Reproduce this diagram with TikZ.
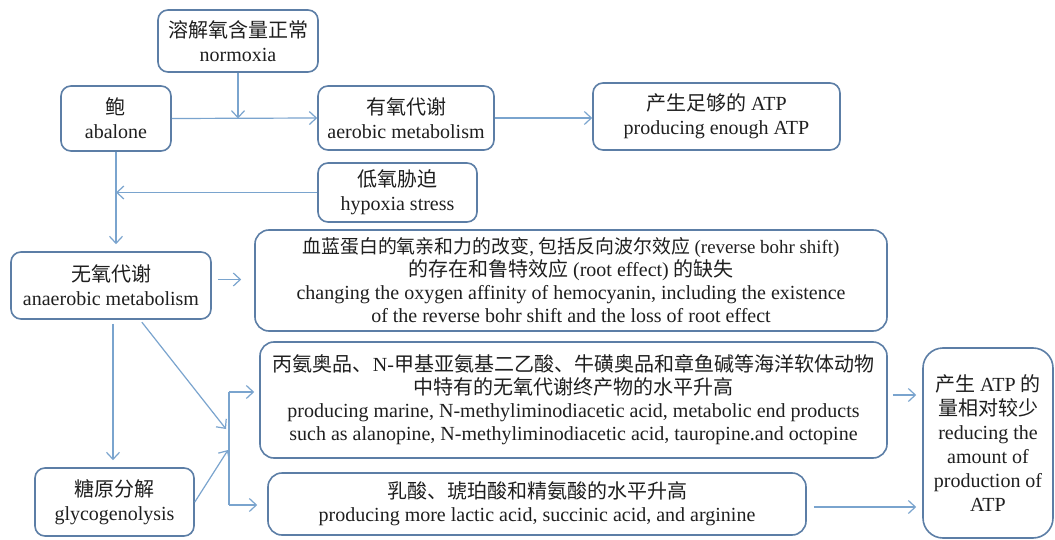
\documentclass[tikz,border=0pt]{standalone}
\usepackage{fontspec}
\setmainfont{Liberation Serif}
\newfontfamily\zhfont{Noto Sans CJK SC}
\newcommand\zh[1]{{\zhfont #1}}
\usetikzlibrary{arrows.meta}
\definecolor{boxc}{RGB}{92,126,166}
\definecolor{arrc}{RGB}{122,164,206}
\begin{document}
\begin{tikzpicture}[x=0.5pt,y=-0.5pt,
 box/.style={draw=boxc, line width=0.8pt, rounded corners=5pt, align=center, inner sep=0pt,
   font=\fontsize{10}{12}\selectfont, text=black!88},
 bigbox/.style={box, rounded corners=7pt, font=\fontsize{10}{11.5}\selectfont},
 arr/.style={draw=arrc, line width=0.6pt, -{Straight Barb[length=3.5pt,width=6.5pt]}},
 ln/.style={draw=arrc, line width=0.6pt}]
\useasboundingbox (0,0) rectangle (1055,540);
\clip (0,0) rectangle (1055,540);
\fill[white] (0,0) rectangle (1055,540);

\node[box, minimum width=80pt, minimum height=31pt] (normoxia) at (238,41)
  {\zh{溶解氧含量正常}\\normoxia};
\node[box, minimum width=55pt, minimum height=32.5pt] (abalone) at (116,118.5)
  {\zh{鲍}\\abalone};
\node[box, minimum width=88pt, minimum height=32pt] (aerobic) at (406,118)
  {\zh{有氧代谢}\\aerobic metabolism};
\node[box, minimum width=123.5pt, minimum height=33.5pt] (atp) at (716.5,116.5)
  {\zh{产生足够的} ATP\\producing enough ATP};
\node[box, minimum width=79.5pt, minimum height=29.5pt] (hypoxia) at (397.5,192.5)
  {\zh{低氧胁迫}\\hypoxia stress};
\node[box, minimum width=100pt, minimum height=33.5pt] (anaerobic) at (111,285.5)
  {\zh{无氧代谢}\\anaerobic metabolism};
\node[box, minimum width=79.5pt, minimum height=34pt] (glyco) at (114.5,502)
  {\zh{糖原分解}\\glycogenolysis};
\node[bigbox, minimum width=316pt, minimum height=50.5pt] (hemo) at (571,280.5)
  {{\fontsize{9.45}{11.5}\selectfont\zh{血蓝蛋白的氧亲和力的改变}, \zh{包括反向波尔效应} (reverse bohr shift)}\\
   \zh{的存在和鲁特效应} (root effect) \zh{的缺失}\\
   changing the oxygen affinity of hemocyanin, including the existence\\
   of the reverse bohr shift and the loss of root effect};
\node[bigbox, minimum width=313.5pt, minimum height=58pt] (big) at (573.5,400)
  {\zh{丙氨奥品、}N-\zh{甲基亚氨基二乙酸、牛磺奥品和章鱼碱等海洋软体动物}\\
   \zh{中特有的无氧代谢终产物的水平升高}\\
   producing marine, N-methyliminodiacetic acid, metabolic end products\\
   such as alanopine, N-methyliminodiacetic acid, tauropine.and octopine};
\node[bigbox, minimum width=269pt, minimum height=31pt] (lactic) at (537,504)
  {\zh{乳酸、琥珀酸和精氨酸的水平升高}\\
   producing more lactic acid, succinic acid, and arginine};
\node[box, rounded corners=10pt, minimum width=65pt, minimum height=95pt] (less) at (988,443)
  {\zh{产生} ATP \zh{的}\\\zh{量相对较少}\\reducing the\\amount of\\production of\\ATP};

\coordinate (bt) at (229,392);
\coordinate (bb) at (229,505);
\coordinate (hin) at (226,429);
\coordinate (gin) at (228,450);

\draw[arr] (normoxia.south) -- (normoxia.south |- abalone.east);
\draw[arr] (abalone.east) -- (aerobic.west);
\draw[arr] (aerobic.east) -- (aerobic.east -| atp.west);
\draw[arr, shorten >=3.5pt] (abalone.south) -- (abalone.south |- anaerobic.north);
\draw[arr] (hypoxia.west) -- (hypoxia.west -| abalone.south);
\draw[arr, shorten <=3pt, shorten >=6.5pt] ([yshift=3pt]anaerobic.east) -- ([yshift=3pt]anaerobic.east -| hemo.west);
\draw[arr, shorten <=2pt, shorten >=3.5pt] ([xshift=1pt]anaerobic.south) -- ([xshift=1pt]anaerobic.south |- glyco.north);
\draw[arr, shorten <=1.5pt] ([xshift=14.5pt]anaerobic.south) -- (hin);
\draw[arr] (glyco.east) -- (gin);
\draw[ln] (bt) -- (bb);
\draw[arr, shorten >=2.5pt] (bt) -- (bt -| big.west);
\draw[arr, shorten >=5pt] (bb) -- (bb -| lactic.west);
\draw[arr, shorten <=2.5pt, shorten >=3pt] ([yshift=2.5pt]big.east) -- ([yshift=2.5pt]big.east -| less.west);
\draw[arr, shorten <=3.5pt, shorten >=3pt] ([yshift=-1.5pt]lactic.east) -- ([yshift=-1.5pt]lactic.east -| less.west);
\end{tikzpicture}
\end{document}
